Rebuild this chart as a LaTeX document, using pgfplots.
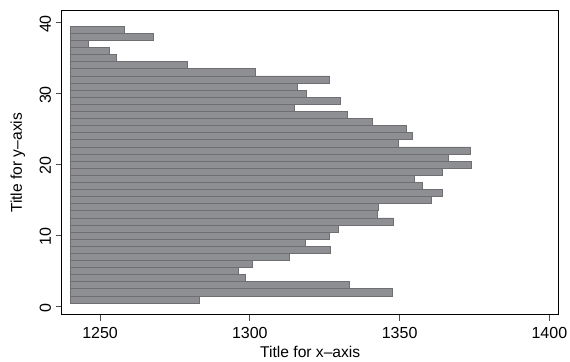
\documentclass[border=0pt]{standalone}
\usepackage{fontspec}
\setmainfont{Liberation Sans}
\usepackage{pgfplots}
\pgfplotsset{compat=1.18}
\definecolor{barfill}{RGB}{142,143,147}
\definecolor{baredge}{RGB}{110,110,115}
\begin{document}
\begin{tikzpicture}
\begin{axis}[
  name=ax,
  scale only axis, width=372.75pt, height=228.2pt,
  xmin=-2.8, xmax=163.1, ymin=-1.17, ymax=41.7,
  x filter/.expression={x-1240},
  xtick={10,60,110,160}, xticklabels={1250,1300,1350,1400},
  ytick={0,10,20,30,40},
  xtick pos=left, ytick pos=left,
  tick align=outside, major tick length=4.5pt,
  every tick/.style={black!70, line width=0.6pt},
  axis line style={black, line width=0.75pt},
  /pgf/number format/assume math mode=true,
  tick label style={font=\fontsize{12}{14}\selectfont},
  label style={font=\fontsize{11.7}{14}\selectfont},
  xticklabel style={yshift=-1.5pt},
  yticklabel style={rotate=90, anchor=south, xshift=-1pt},
  xlabel={Title for x\mbox{\textendash}axis},
  ylabel={Title for y\mbox{\textendash}axis},
  xlabel style={at={(axis description cs:0.5,0)}, anchor=center, yshift=-28pt},
  ylabel style={at={([xshift=-33pt]axis description cs:0,0.5)}, anchor=center},
]
\addplot[xbar, bar width=1, fill=barfill, draw=baredge, line width=0.55pt] coordinates {
(1283.3,1) (1347.6,2) (1333.3,3) (1298.6,4) (1296.1,5) (1300.9,6) (1313.3,7) (1326.9,8)
(1318.6,9) (1326.7,10) (1329.6,11) (1348.0,12) (1342.7,13) (1343.0,14) (1360.6,15)
(1364.3,16) (1357.6,17) (1355.0,18) (1364.2,19) (1373.9,20) (1366.2,21) (1373.6,22)
(1349.6,23) (1354.4,24) (1352.3,25) (1340.9,26) (1332.7,27) (1314.9,28) (1330.3,29)
(1318.9,30) (1315.9,31) (1326.7,32) (1301.7,33) (1279.0,34) (1255.4,35) (1253.0,36)
(1246.0,37) (1267.9,38) (1258.0,39)
};
\end{axis}
\pgfresetboundingbox
\path ([shift={(-46.3pt,-35.25pt)}]ax.south west) rectangle ([shift={(8.5pt,8pt)}]ax.north east);
\end{tikzpicture}
\end{document}
